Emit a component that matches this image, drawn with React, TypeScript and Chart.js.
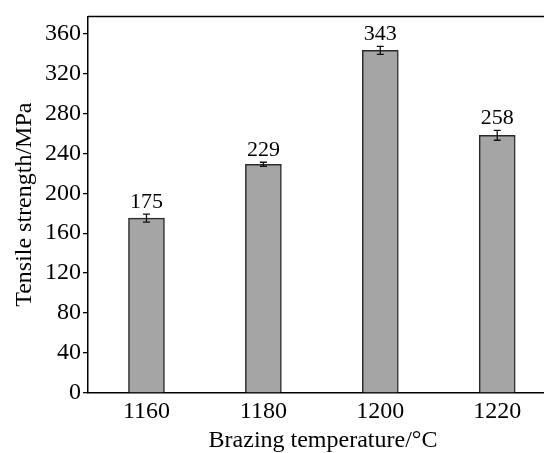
import React, { useEffect, useRef } from "react";
import { Chart, registerables } from "chart.js";

Chart.register(...registerables);

const temperatures = [1160, 1180, 1200, 1220];
const strengths = [175, 229, 343, 258];
const errors = [4, 2, 4, 5];
const yTicks = [0, 40, 80, 120, 160, 200, 240, 280, 320, 360];
const xTitle = "Brazing temperature/°C";
const yTitle = "Tensile strength/MPa";

const FONT = "'Liberation Serif', 'Times New Roman', serif";

const extrasPlugin = {
  id: "extras",
  afterDatasetsDraw(chart: any) {
    const { ctx, chartArea, scales } = chart;
    const xs = scales.x;
    const ys = scales.y;
    ctx.save();
    // top frame line
    ctx.strokeStyle = "#000";
    ctx.lineWidth = 1.5;
    ctx.beginPath();
    ctx.moveTo(chartArea.left, chartArea.top);
    ctx.lineTo(chartArea.right, chartArea.top);
    ctx.stroke();
    // error bars + labels
    ctx.lineWidth = 1.3;
    ctx.strokeStyle = "#111";
    ctx.fillStyle = "#000";
    ctx.font = `22px ${FONT}`;
    ctx.textAlign = "center";
    ctx.textBaseline = "alphabetic";
    temperatures.forEach((t, i) => {
      const x = xs.getPixelForValue(t);
      const yTop = ys.getPixelForValue(strengths[i] + errors[i]);
      const yBot = ys.getPixelForValue(strengths[i] - errors[i]);
      ctx.beginPath();
      ctx.moveTo(x, yTop);
      ctx.lineTo(x, yBot);
      ctx.moveTo(x - 3.5, yTop);
      ctx.lineTo(x + 3.5, yTop);
      ctx.moveTo(x - 3.5, yBot);
      ctx.lineTo(x + 3.5, yBot);
      ctx.stroke();
      ctx.fillText(String(strengths[i]), x, yTop - 6);
    });
    // x axis title (slightly right of plot centre, as in the original)
    ctx.font = `24px ${FONT}`;
    ctx.textBaseline = "middle";
    ctx.fillText(xTitle, chartArea.left + 235, xs.bottom - 12);
    ctx.restore();
  },
};

export default function App() {
  const ref = useRef<HTMLCanvasElement>(null);
  useEffect(() => {
    const chart = new Chart(ref.current!, {
      type: "bar",
      data: {
        datasets: [
          {
            data: temperatures.map((t, i) => ({ x: t, y: strengths[i] })),
            backgroundColor: "#a5a5a5",
            borderColor: "#2b2b2b",
            borderWidth: 1.5,
            barThickness: 36,
          } as any,
        ],
      },
      options: {
        animation: false,
        responsive: false,
        maintainAspectRatio: false,
        layout: { padding: { top: 16, left: 0, right: 0, bottom: 0 } },
        plugins: { legend: { display: false }, tooltip: { enabled: false } },
        scales: {
          x: {
            type: "linear",
            min: 1150,
            max: 1228,
            offset: false,
            afterBuildTicks: (s: any) => {
              s.ticks = temperatures.map((v) => ({ value: v }));
            },
            afterFit: (s: any) => {
              s.height = 60;
            },
            grid: { display: false, drawTicks: false },
            border: { display: true, color: "#000", width: 1.5 },
            ticks: {
              color: "#000",
              font: { family: FONT, size: 24 },
              padding: 4,
              maxRotation: 0,
              callback: (v: any) => String(v),
            },
            title: { display: false },
          },
          y: {
            type: "linear",
            min: 0,
            max: 377,
            afterBuildTicks: (s: any) => {
              s.ticks = yTicks.map((v) => ({ value: v }));
            },
            afterFit: (s: any) => {
              s.width = 88;
            },
            grid: {
              display: true,
              drawOnChartArea: false,
              drawTicks: true,
              tickLength: 5,
              color: "#000",
              lineWidth: 1.3,
            },
            border: { display: true, color: "#000", width: 1.5 },
            ticks: {
              color: "#000",
              font: { family: FONT, size: 24 },
              padding: 2,
              callback: (v: any) => String(v),
            },
            title: {
              display: true,
              text: yTitle,
              color: "#000",
              font: { family: FONT, size: 24 },
              padding: { top: 10, bottom: 0 },
            },
          },
        },
      },
      plugins: [extrasPlugin],
    });
    return () => chart.destroy();
  }, []);
  return (
    <div style={{ position: "fixed", left: 0, top: 0, width: 544, height: 453, background: "#fff" }}>
      <canvas ref={ref} width={544} height={453} style={{ width: 544, height: 453, display: "block" }} />
    </div>
  );
}
